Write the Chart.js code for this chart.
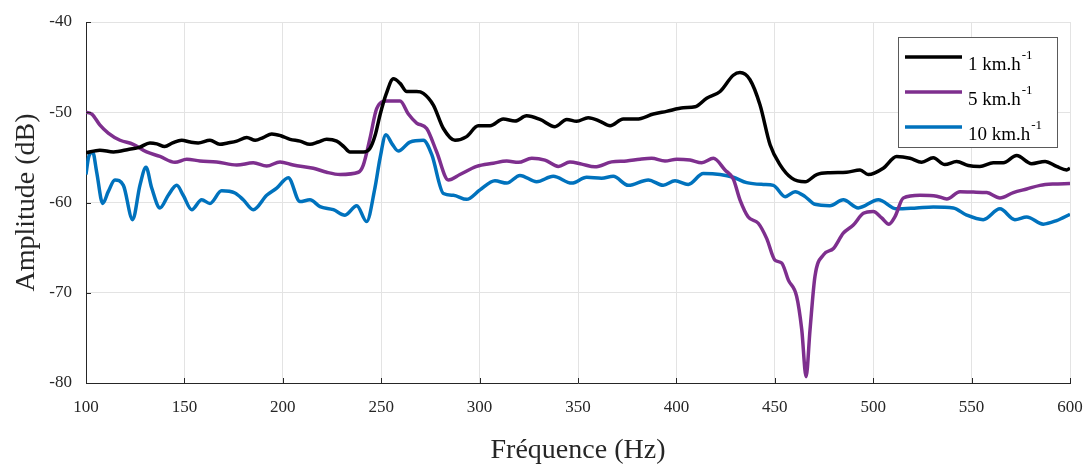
<!DOCTYPE html>
<html>
<head>
<meta charset="utf-8">
<script src="https://cdn.jsdelivr.net/npm/chart.js@4"></script>
<style>
  html, body { margin: 0; padding: 0; background: #fff; }
  #wrap { width: 1088px; height: 467px; position: relative; }
</style>
</head>
<body>
<div id="wrap"><canvas id="spectre"></canvas></div>
<script>
// series (Hz, dB)
const freq1 = [100,107,114,122,127,132.5,136,140,144,148.6,153,157,163,168,172,176.6,181.7,186,190,194.4,199,203.7,208.7,213.8,218,222.3,227.4,231,234.1,240.9,244.3,247,249.4,252.5,256.2,259.6,263,268,271.4,276.5,281.6,287.5,293.4,299.3,305.3,312,318,323.9,330.7,338.3,344.3,349.3,355.2,361.2,366.3,373,379.8,388.3,395,403.5,409.5,415.4,422.2,428.9,432.3,437.4,442.5,447.6,452.6,458.6,465.4,471.3,478,486.5,493.3,497.5,505.1,511.9,518.7,524.6,530.5,536.4,542.4,548.3,554.2,561,566.1,572.9,580.5,587.3,593.2,598.3,600];
const amp1 = [-54.5,-54.2,-54.4,-54.1,-53.9,-53.4,-53.5,-53.8,-53.4,-53.1,-53.3,-53.4,-53.1,-53.55,-53.4,-53.2,-52.8,-53.1,-52.8,-52.4,-52.6,-53.0,-53.2,-53.55,-53.3,-53.0,-53.2,-53.8,-54.4,-54.4,-54.0,-52.5,-50.3,-48.0,-46.3,-46.8,-47.7,-47.7,-47.9,-49.2,-51.8,-53.1,-52.7,-51.5,-51.5,-50.75,-50.97,-50.4,-50.8,-51.6,-50.8,-51.0,-50.6,-51.0,-51.5,-50.75,-50.75,-50.2,-49.9,-49.5,-49.4,-48.45,-47.7,-45.9,-45.6,-46.4,-49.2,-53.6,-55.8,-57.3,-57.7,-56.9,-56.7,-56.65,-56.4,-56.9,-56.2,-54.9,-55.1,-55.55,-55.05,-55.8,-55.45,-55.9,-56.0,-55.6,-55.6,-54.8,-55.7,-55.45,-56.0,-56.4,-56.2];

const freq5 = [100,103,107,111.3,117.3,124,130.8,137.6,145.2,151.2,157.9,166.4,176.6,185,191.8,198.6,205.3,215.5,222.3,229.1,238.4,240.9,244.3,247.7,252.8,259.6,263.8,268,273.1,278.2,284.1,290,298.5,307,313.8,319.7,326.5,333.2,340,345.9,351.9,358.6,367.1,374.7,381.5,387.4,394.2,400.2,406.9,412.9,418.8,424.7,428.9,432.3,436.5,441.6,445.9,450.1,453.5,456.9,461.1,463.7,465.9,467.9,470.4,474.7,479.8,484.8,489.9,495,500,504.3,508,511,515.3,523.8,532.3,537.4,544.1,550.9,557.7,564.4,571.2,578,584.8,591.5,600];
const amp5 = [-50.0,-50.2,-51.4,-52.3,-53.1,-53.55,-54.4,-54.9,-55.55,-55.2,-55.4,-55.5,-55.85,-55.6,-55.96,-55.5,-55.85,-56.2,-56.65,-56.9,-56.65,-55.85,-52.9,-49.6,-48.75,-48.75,-50.2,-51.2,-51.8,-54.4,-57.5,-56.9,-56.0,-55.65,-55.4,-55.55,-55.1,-55.3,-56.0,-55.5,-55.75,-56.05,-55.5,-55.4,-55.2,-55.1,-55.4,-55.2,-55.3,-55.6,-55.1,-56.4,-57.4,-59.7,-61.6,-62.3,-64.0,-66.4,-66.7,-68.6,-70.4,-74.1,-79.3,-74.1,-68.2,-65.8,-65.1,-63.4,-62.5,-61.2,-61.0,-61.7,-62.4,-61.6,-59.5,-59.2,-59.3,-59.6,-58.8,-58.85,-58.9,-59.5,-58.9,-58.5,-58.1,-57.95,-57.9];

const freq10 = [100,101.2,103.4,105.4,108.5,111.3,114.7,119,123.7,127.4,130.5,133.4,137.6,141.8,146.1,149.4,153.7,158.8,163,168.9,175.7,179.9,185,191.8,196.9,202.8,208.7,213.8,218.9,225.7,231.6,237.6,242.6,246.8,249.4,252.4,255.5,258.7,264.6,271.4,275.7,281.6,286.7,293.4,300.2,307.8,313.8,320.5,329,337.4,346.8,354.4,362,367.9,375.6,385.7,393.3,399.3,406,413.7,422.2,428.9,435.7,444.2,449.3,455.3,460.3,465.4,470.4,478,484.8,492.4,502.6,511.9,522.1,530.5,540.7,547.5,555.9,564.4,572,578,586.4,593.2,600];
const amp10 = [-56.9,-55.1,-54.4,-56.6,-60.1,-58.8,-57.5,-58.1,-61.9,-58.1,-56.1,-58.4,-60.6,-59.2,-58.1,-59.2,-60.8,-59.7,-60.1,-58.7,-58.95,-59.7,-60.8,-59.2,-58.4,-57.25,-59.9,-59.7,-60.45,-60.8,-61.4,-60.35,-62.1,-58.4,-55.1,-52.5,-53.5,-54.3,-53.3,-53.1,-54.7,-59.0,-59.2,-59.65,-58.6,-57.6,-57.85,-57.0,-57.7,-57.1,-57.85,-57.2,-57.3,-57.1,-58.1,-57.5,-58.1,-57.6,-58.0,-56.8,-56.9,-57.2,-57.8,-58.0,-58.1,-59.35,-58.8,-59.35,-60.2,-60.35,-59.7,-60.6,-59.7,-60.7,-60.6,-60.5,-60.6,-61.4,-61.9,-60.7,-61.9,-61.6,-62.4,-62.0,-61.3];

const etiquettes = ['1 km.h', '5 km.h', '10 km.h'];
const couleurs = ['#000000', '#7E2F8E', '#0072BD'];

const SERIF = '"Liberation Serif", "DejaVu Serif", serif';
const toPts = (xs, ys) => xs.map((x, i) => ({ x, y: ys[i] }));

// petits traits vers l'intérieur + légende façon MATLAB
const cadre = {
  id: 'cadre',
  afterDraw(chart) {
    const ctx = chart.ctx;
    const { left, right, top, bottom } = chart.chartArea;
    const sx = chart.scales.x, sy = chart.scales.y;
    ctx.save();
    ctx.strokeStyle = '#262626';
    ctx.lineWidth = 1;
    ctx.beginPath();
    sx.ticks.forEach(t => {
      const p = Math.round(sx.getPixelForValue(t.value)) + 0.5;
      ctx.moveTo(p, bottom); ctx.lineTo(p, bottom - 5);
    });
    sy.ticks.forEach(t => {
      const p = Math.round(sy.getPixelForValue(t.value)) + 0.5;
      ctx.moveTo(left, p); ctx.lineTo(left + 5, p);
    });
    ctx.stroke();

    // légende
    const bx = 898, by = 37, bw = 159, bh = 110;
    ctx.fillStyle = '#fff';
    ctx.fillRect(bx, by, bw, bh);
    ctx.strokeStyle = '#5a5a5a';
    ctx.strokeRect(bx + 0.5, by + 0.5, bw, bh);
    chart.data.datasets.forEach((ds, i) => {
      const ly = 57 + i * 35;
      ctx.strokeStyle = ds.borderColor;
      ctx.lineWidth = 3.5;
      ctx.beginPath();
      ctx.moveTo(905, ly); ctx.lineTo(962, ly);
      ctx.stroke();
      ctx.fillStyle = '#000';
      ctx.textBaseline = 'alphabetic';
      ctx.font = '19px ' + SERIF;
      ctx.fillText(ds.label, 968, ly + 13);
      const w = ctx.measureText(ds.label).width;
      ctx.font = '13px ' + SERIF;
      ctx.fillText('-1', 968 + w + 1, ly + 2);
    });
    ctx.restore();
  }
};

const jeux = [toPts(freq1, amp1), toPts(freq5, amp5), toPts(freq10, amp10)];

new Chart(document.getElementById('spectre'), {
  type: 'line',
  data: {
    datasets: jeux.map((d, i) => ({
      label: etiquettes[i],
      data: d,
      borderColor: couleurs[i],
      borderWidth: 3.5,
      pointRadius: 0,
      cubicInterpolationMode: 'monotone',
      fill: false
    }))
  },
  options: {
    responsive: true,
    maintainAspectRatio: false,
    animation: false,
    layout: { padding: { top: 22, right: 18, left: 0, bottom: 0 } },
    plugins: { legend: { display: false }, tooltip: { enabled: false } },
    scales: {
      x: {
        type: 'linear', min: 100, max: 600,
        ticks: { stepSize: 50, padding: 14, color: '#262626', font: { family: SERIF, size: 17 } },
        grid: { color: '#e3e3e3', drawTicks: false },
        border: { color: '#262626', width: 1 },
        title: { display: true, text: 'Fréquence (Hz)', color: '#262626',
                 font: { family: SERIF, size: 28 }, padding: { top: 0, bottom: 0 } },
        afterFit: s => { s.height = 84; s.paddingLeft = 0; s.paddingRight = 0; }
      },
      y: {
        min: -80, max: -40,
        ticks: { stepSize: 10, padding: 14, color: '#262626', font: { family: SERIF, size: 17 } },
        grid: { color: '#e3e3e3', drawTicks: false },
        border: { color: '#262626', width: 1 },
        title: { display: true, text: 'Amplitude (dB)', color: '#262626',
                 font: { family: SERIF, size: 28 }, padding: { top: 10, bottom: 0 } },
        afterFit: s => { s.width = 86; s.paddingTop = 0; s.paddingBottom = 0; }
      }
    }
  },
  plugins: [cadre]
});
</script>
</body>
</html>
